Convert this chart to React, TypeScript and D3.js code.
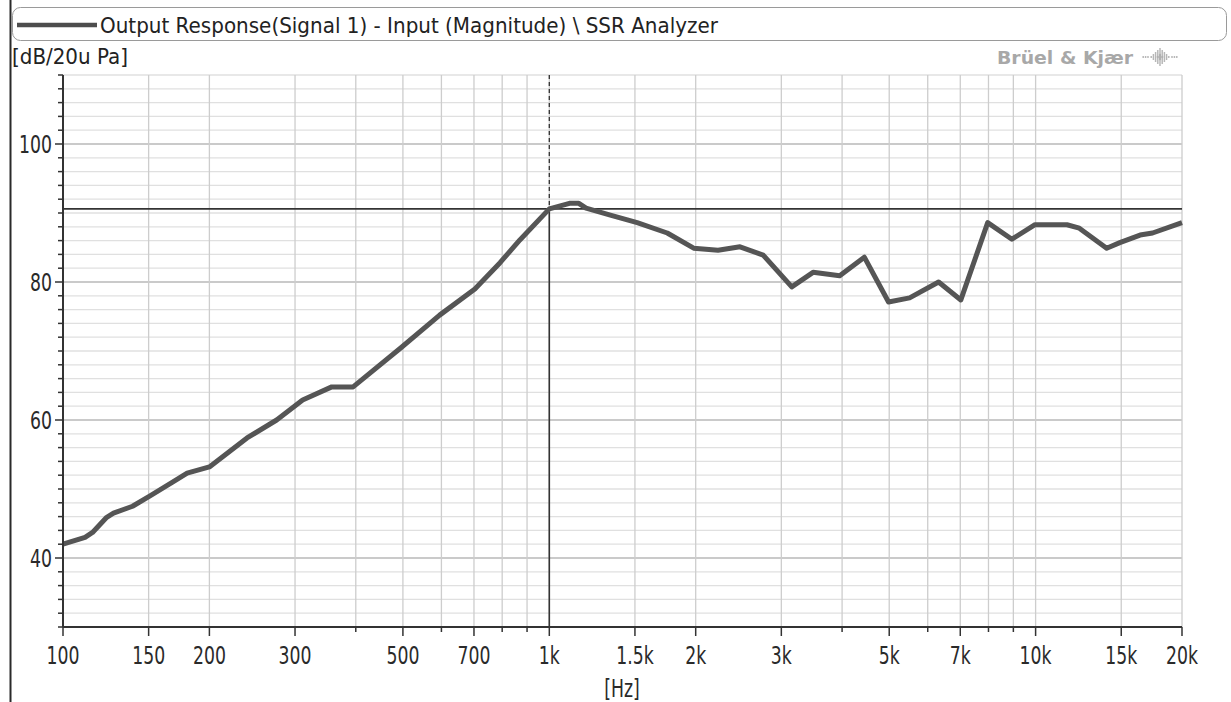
import React from "react";
import * as d3 from "d3";

const W = 1231;
const H = 702;

// Measured response (Hz, dB re 20 uPa)
const freqs = [100, 111, 115, 123, 127, 139, 151, 168, 180, 200, 239, 275, 311, 357, 395, 494, 595, 703, 792, 870, 1000, 1100, 1150, 1190, 1335, 1516, 1748, 1981, 2223, 2467, 2753, 3152, 3486, 3955, 4444, 4984, 5507, 6318, 7019, 7970, 8938, 9973, 11600, 12300, 14000, 14900, 16400, 17400, 20000];
const levels = [42.0, 43.0, 43.7, 45.9, 46.5, 47.5, 49.0, 51.0, 52.3, 53.2, 57.4, 60.0, 62.9, 64.8, 64.8, 70.4, 75.2, 79.0, 82.8, 86.1, 90.6, 91.4, 91.4, 90.7, 89.7, 88.6, 87.1, 84.9, 84.6, 85.1, 83.9, 79.3, 81.4, 80.9, 83.6, 77.1, 77.7, 80.0, 77.4, 88.6, 86.2, 88.3, 88.3, 87.8, 84.9, 85.7, 86.8, 87.1, 88.6];

const xMajorTicks = [100, 150, 200, 300, 500, 700, 1000, 1500, 2000, 3000, 5000, 7000, 10000, 15000, 20000];
const xMajorLabels = ["100", "150", "200", "300", "500", "700", "1k", "1.5k", "2k", "3k", "5k", "7k", "10k", "15k", "20k"];
const xMinorTicks = [400, 600, 800, 900, 4000, 6000, 8000, 9000];
const yMajorTicks = [40, 60, 80, 100];
const yDomain = [30, 110];
const xDomain = [100, 20000];

const cursorFreq = 1000;
const cursorLevel = 90.6;

const legendText = "Output Response(Signal 1) - Input (Magnitude) \\ SSR Analyzer";
const yUnit = "[dB/20u Pa]";
const xUnit = "[Hz]";
const brand = "Brüel & Kjær";

const FONT = "'DejaVu Sans', 'Liberation Sans', Arial, sans-serif";

export default function App() {
  const left = 63, right = 1182, top = 75, bottom = 627;
  const x = d3.scaleLog().domain(xDomain).range([left, right]);
  const y = d3.scaleLinear().domain(yDomain).range([bottom, top]);

  const yMinor = d3.range(yDomain[0], yDomain[1] + 0.001, 2);
  const data = freqs.map((f, i) => [f, levels[i]] as [number, number]);
  const line = d3.line<[number, number]>().x(d => x(d[0])).y(d => y(d[1]));

  const cx = x(cursorFreq);
  const cy = y(cursorLevel);

  // logo dot pattern (diamond of dots with side tails)
  const dots: { dx: number; dy: number; r: number }[] = [];
  for (let i = -4; i <= 4; i++) {
    for (let j = -4; j <= 4; j++) {
      const d = Math.abs(i) / 4 + Math.abs(j) / 4;
      if (d <= 1.01) dots.push({ dx: i * 2.2, dy: j * 2.0, r: d < 0.5 ? 1.2 : 0.9 });
    }
  }
  for (let k = 5; k <= 7; k++) {
    dots.push({ dx: k * 2.4, dy: 0, r: 0.9 });
    dots.push({ dx: -k * 2.4, dy: 0, r: 0.9 });
  }

  return (
    <svg width={W} height={H} style={{ position: "absolute", left: 0, top: 0, background: "#fff" }} fontFamily={FONT}>
      <rect x={0} y={0} width={W} height={H} fill="#fff" />
      {/* panel left border */}
      <line x1={10.5} x2={10.5} y1={0} y2={H} stroke="#2a2a2a" strokeWidth={2} />
      {/* legend box */}
      <rect x={12.5} y={7.5} width={1214} height={33} rx={8} fill="#fff" stroke="#9a9a9a" strokeWidth={1} />
      <line x1={17} x2={97} y1={25} y2={25} stroke="#4d4d4d" strokeWidth={4.5} />
      <text x={100} y={33} fontSize={21} fill="#222" textLength={618} lengthAdjust="spacingAndGlyphs">{legendText}</text>

      {/* unit label */}
      <text x={12} y={64} fontSize={21} fill="#222" textLength={116} lengthAdjust="spacingAndGlyphs">{yUnit}</text>

      {/* brand */}
      <text x={997} y={64} fontSize={18} fontWeight="bold" fill="#a8a8a8" textLength={136} lengthAdjust="spacingAndGlyphs">{brand}</text>
      <g transform="translate(1160,57)">
        {dots.map((d, i) => (
          <circle key={i} cx={d.dx} cy={d.dy} r={d.r} fill="#b0b0b0" />
        ))}
      </g>

      {/* horizontal minor grid */}
      {yMinor.map(v => (
        <line key={"hg" + v} x1={left} x2={right} y1={y(v)} y2={y(v)}
          stroke={yMajorTicks.includes(v) ? "#b9b9b9" : "#e0e0e0"} strokeWidth={1.3} />
      ))}
      {/* vertical grid */}
      {[...xMajorTicks, ...xMinorTicks].map(v => (
        <line key={"vg" + v} x1={x(v)} x2={x(v)} y1={top} y2={bottom} stroke="#cdcdcd" strokeWidth={1.3} />
      ))}

      {/* cursor */}
      <line x1={left} x2={right} y1={cy} y2={cy} stroke="#333" strokeWidth={1.6} />
      <line x1={cx} x2={cx} y1={top} y2={cy} stroke="#333" strokeWidth={1.3} strokeDasharray="4,3" />
      <line x1={cx} x2={cx} y1={cy} y2={bottom} stroke="#333" strokeWidth={1.6} />

      {/* curve */}
      <path d={line(data) || ""} fill="none" stroke="#555" strokeWidth={5} strokeLinejoin="round" />

      {/* axes */}
      <line x1={left} x2={left} y1={top} y2={bottom} stroke="#333" strokeWidth={2} />
      <line x1={left} x2={right} y1={bottom} y2={bottom} stroke="#333" strokeWidth={2} />
      {yMinor.map(v => (
        <line key={"yt" + v} x1={left - (yMajorTicks.includes(v) ? 8 : 5)} x2={left} y1={y(v)} y2={y(v)} stroke="#333" strokeWidth={1.5} />
      ))}
      {yMajorTicks.map(v => (
        <text key={"yl" + v} transform={`translate(52,${y(v) + 9}) scale(0.72,1)`} textAnchor="end" fontSize={24} fill="#2a2a2a">{v}</text>
      ))}
      {xMajorTicks.map((v, i) => (
        <g key={"xt" + v}>
          <line x1={x(v)} x2={x(v)} y1={bottom} y2={bottom + 9} stroke="#333" strokeWidth={1.5} />
          <text transform={`translate(${x(v)},664) scale(0.72,1)`} textAnchor="middle" fontSize={24} fill="#2a2a2a">{xMajorLabels[i]}</text>
        </g>
      ))}
      {xMinorTicks.map(v => (
        <line key={"xm" + v} x1={x(v)} x2={x(v)} y1={bottom} y2={bottom + 5} stroke="#333" strokeWidth={1.5} />
      ))}
      <text transform={`translate(622,697) scale(0.72,1)`} textAnchor="middle" fontSize={24} fill="#2a2a2a">{xUnit}</text>
    </svg>
  );
}
